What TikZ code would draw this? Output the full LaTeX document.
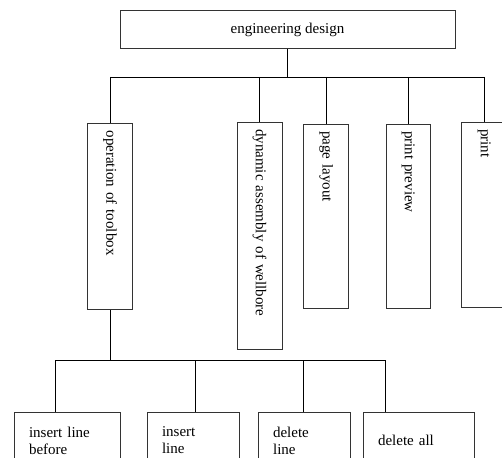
\documentclass[tikz,border=0pt]{standalone}
\usepackage{fontspec}
\setmainfont{Liberation Serif}
\usepackage{tikz}
\usetikzlibrary{positioning}

\begin{document}
\begin{tikzpicture}[x=1pt,y=-1pt,line width=0.75pt,
        box/.style={draw=black!80,font=\fontsize{15}{17}\selectfont,inner sep=0pt},
        vbox/.style={box,rotate=-90,anchor=south west,minimum height=45pt,text width=#1,inner xsep=7pt,align=left},
        hbox/.style={box,anchor=north west,minimum height=57pt,text width=#1,inner xsep=15pt,align=left}]
        \clip (0,0) rectangle (502,457);
        \node[box,minimum width=335pt,minimum height=37.6pt] (design) at (287.5,29.5) {engineering design};
        % second level
        \node[vbox=172pt] (op) at (87.3,123.3) {operation of toolbox};
        \node[vbox=213.6pt] (dyn) at (236.7,121.7) {dynamic assembly of wellbore};
        \node[vbox=170.6pt] (layout) at (303.3,123.7) {page layout};
        \node[vbox=170.6pt,minimum height=44.3pt] (preview) at (385.7,123.7) {print preview};
        \node[vbox=171.6pt] (print) at (461.3,121.7) {print};
        % third level
        \node[hbox=76pt] (before) at (13.7,411.7) {insert line\\before};
        \node[hbox=62.6pt] (insert) at (146.7,411.7) {insert\\line};
        \node[hbox=62.3pt] (delline) at (257.7,411.7) {delete\\line};
        \node[hbox=81.3pt] (delall) at (362.7,411.7) {delete all};
        % connectors
        \coordinate (top) at (0,77);
        \draw (design.south) -- (design.south |- top);
        \draw (op.west |- top) -- (print.west |- top);
        \foreach \n in {op,dyn,layout,preview,print}
                \draw (\n.west |- top) -- (\n.west);
        \draw (op.east) -- (op.east |- 0,360);
        \foreach \x/\n in {55.3/before,195.3/insert,303.3/delline,385.7/delall}
                \draw (\x,360) coordinate (\n-tap) -- (\x,0 |- \n.north);
        \draw (before-tap) -- (delall-tap);
\end{tikzpicture}
\end{document}
